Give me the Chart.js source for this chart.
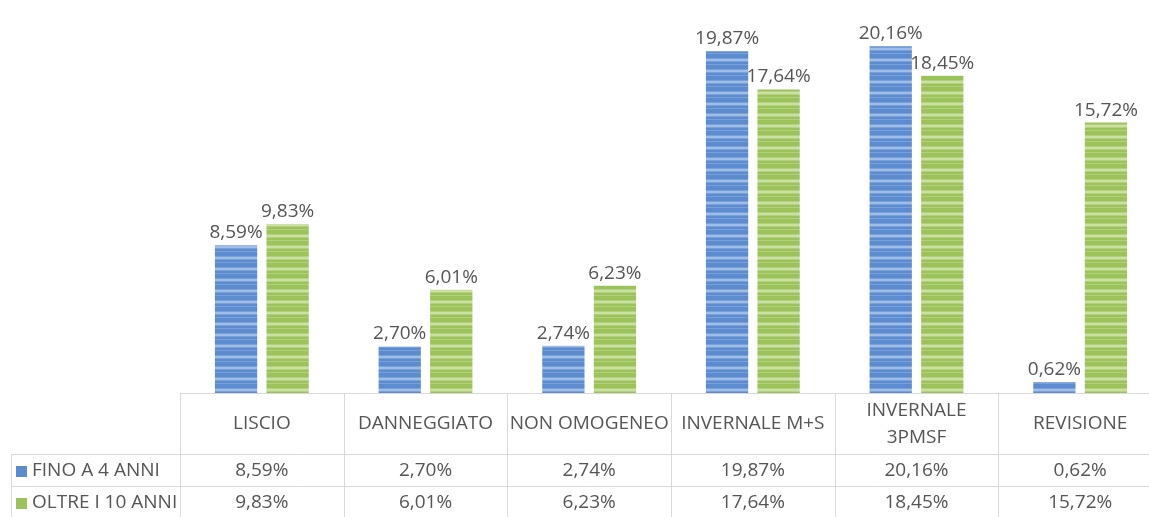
<!DOCTYPE html>
<html>
<head>
<meta charset="utf-8">
<script src="https://cdn.jsdelivr.net/npm/chart.js@4"></script>
<style>
  html, body { margin: 0; padding: 0; background: #fff; overflow: hidden; }
  #wrap { width: 1162px; height: 517px; }
</style>
</head>
<body>
<div id="wrap"><canvas id="tyreChart"></canvas></div>
<script>
const categories = [
  "LISCIO",
  "DANNEGGIATO",
  "NON OMOGENEO",
  "INVERNALE M+S",
  ["INVERNALE", "3PMSF"],
  "REVISIONE",
];
const seriesNames = ["FINO A 4 ANNI", "OLTRE I 10 ANNI"];
const finoA4 = [8.59, 2.7, 2.74, 19.87, 20.16, 0.62];
const oltre10 = [9.83, 6.01, 6.23, 17.64, 18.45, 15.72];

const TEXT = "#555555";
const GRID = "#d9d9d9";
const FONT = '"Open Sans", sans-serif';
const SIZE = 19;

document.addEventListener("DOMContentLoaded", () => {
  renderChart();
});

function stripes(base, mid, light) {
  const c = document.createElement("canvas");
  c.width = 4;
  c.height = 11;
  const g = c.getContext("2d");
  const rows = [base, base, base, mid, light, light, mid, base, base, mid, base];
  rows.forEach((col, i) => {
    g.fillStyle = col;
    g.fillRect(0, i, 4, 1);
  });
  return g.createPattern(c, "repeat");
}

function fmt(v) {
  return v.toFixed(2).replace(".", ",") + "%";
}

const valueLabels = {
  id: "valueLabels",
  afterDatasetsDraw(chart) {
    const ctx = chart.ctx;
    ctx.save();
    ctx.font = SIZE + "px " + FONT;
    ctx.fillStyle = TEXT;
    ctx.textAlign = "center";
    ctx.textBaseline = "bottom";
    chart.data.datasets.forEach((ds, i) => {
      chart.getDatasetMeta(i).data.forEach((bar, j) => {
        ctx.fillText(fmt(ds.data[j]), bar.x, bar.y - 3);
      });
    });
    ctx.restore();
  },
};

const dataTable = {
  id: "dataTable",
  afterDraw(chart) {
    const ctx = chart.ctx;
    const area = chart.chartArea;
    const xs = chart.scales.x;
    const top = area.bottom;
    const row1 = top + 61;
    const row2 = row1 + 32;
    const bottom = chart.height;
    const colW = (area.right - area.left) / categories.length;
    const legendLeft = 11;

    ctx.save();
    ctx.strokeStyle = GRID;
    ctx.lineWidth = 1;
    ctx.beginPath();
    ctx.moveTo(area.left, top + 0.5);
    ctx.lineTo(area.right, top + 0.5);
    ctx.moveTo(legendLeft, row1 + 0.5);
    ctx.lineTo(area.right, row1 + 0.5);
    ctx.moveTo(legendLeft, row2 + 0.5);
    ctx.lineTo(area.right, row2 + 0.5);
    ctx.moveTo(legendLeft + 0.5, row1);
    ctx.lineTo(legendLeft + 0.5, bottom);
    for (let k = 0; k <= categories.length; k++) {
      const x = Math.round(area.left + k * colW) + 0.5;
      ctx.moveTo(x, top);
      ctx.lineTo(x, bottom);
    }
    ctx.stroke();

    ctx.fillStyle = TEXT;
    ctx.font = SIZE + "px " + FONT;
    ctx.textAlign = "center";
    ctx.textBaseline = "middle";
    const headMid = (top + row1) / 2;
    categories.forEach((cat, j) => {
      const x = xs.getPixelForValue(j);
      if (Array.isArray(cat)) {
        ctx.fillText(cat[0], x, headMid - 13);
        ctx.fillText(cat[1], x, headMid + 14);
      } else {
        ctx.fillText(cat, x, headMid);
      }
    });

    const rows = [
      { y: (row1 + row2) / 2 + 1, data: finoA4, ds: chart.data.datasets[0] },
      { y: (row2 + bottom) / 2 + 1, data: oltre10, ds: chart.data.datasets[1] },
    ];
    rows.forEach((r, i) => {
      ctx.textAlign = "center";
      r.data.forEach((v, j) => {
        ctx.fillText(fmt(v), xs.getPixelForValue(j), r.y);
      });
      ctx.fillStyle = r.ds.keyColor;
      ctx.fillRect(16, Math.round(r.y) - 5, 11, 11);
      ctx.fillStyle = TEXT;
      ctx.textAlign = "left";
      ctx.fillText(seriesNames[i], 32, r.y);
    });
    ctx.restore();
  },
};

function renderChart() {
  const canvas = document.getElementById("tyreChart");

  new Chart(canvas, {
    type: "bar",
    data: {
      labels: categories,
      datasets: [
        {
          label: seriesNames[0],
          data: finoA4,
          backgroundColor: stripes("#5c8bd0", "#7aa0da", "#a0bde6"),
          keyColor: "#5b8bd0",
          borderWidth: 0,
          categoryPercentage: 0.63,
          barPercentage: 0.82,
        },
        {
          label: seriesNames[1],
          data: oltre10,
          backgroundColor: stripes("#9cc25a", "#b2d07e", "#cbe1a3"),
          keyColor: "#9cc25a",
          borderWidth: 0,
          categoryPercentage: 0.63,
          barPercentage: 0.82,
        },
      ],
    },
    options: {
      responsive: true,
      maintainAspectRatio: false,
      animation: false,
      layout: { padding: { left: 180, right: 0, top: 6, bottom: 124 } },
      plugins: {
        legend: { display: false },
        tooltip: { enabled: false },
      },
      scales: {
        x: { display: false },
        y: { display: false, min: 0, max: 22.5 },
      },
    },
    plugins: [valueLabels, dataTable],
  });
}
</script>
</body>
</html>
